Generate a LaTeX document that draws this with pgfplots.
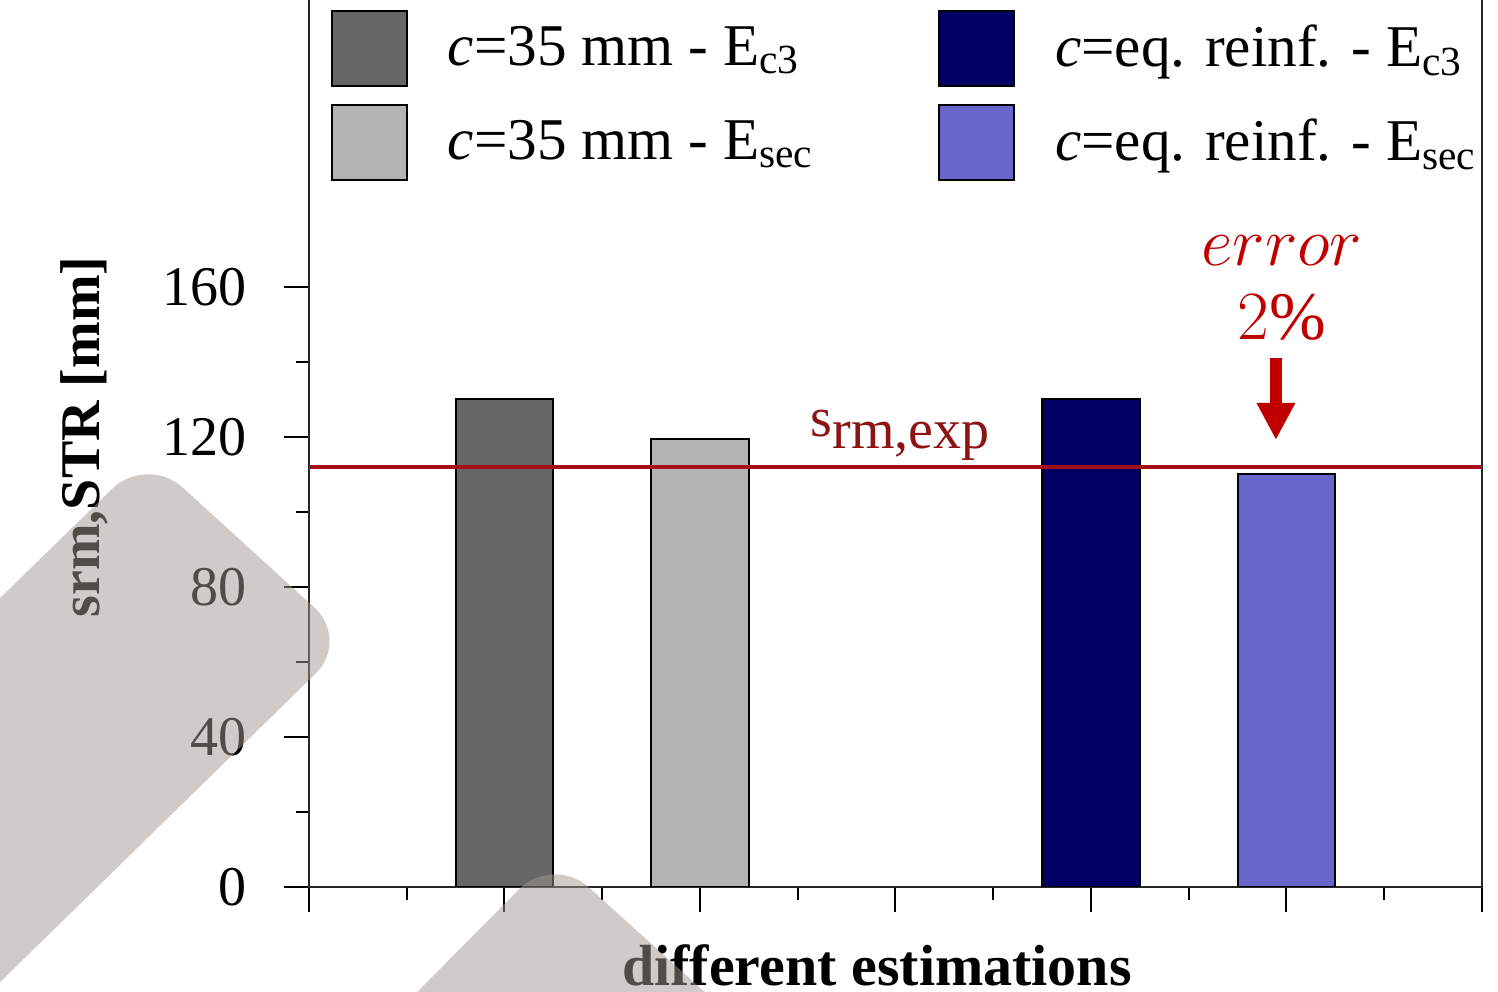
\documentclass[border=0pt]{standalone}
\usepackage{fontspec}
\setmainfont{Liberation Serif}
\usepackage{pgfplots}
\pgfplotsset{compat=1.18}
\usetikzlibrary{arrows.meta}
\definecolor{gA}{RGB}{102,102,102}
\definecolor{gB}{RGB}{179,179,179}
\definecolor{nA}{RGB}{0,0,100}
\definecolor{nB}{RGB}{102,102,204}
\definecolor{redline}{RGB}{165,15,25}
\definecolor{redtext}{RGB}{140,20,20}
\definecolor{errred}{RGB}{192,0,0}
\definecolor{blob}{RGB}{160,152,145}
\begin{document}
\begin{tikzpicture}
\begin{axis}[
  scale only axis, width=293.25pt, height=225pt,
  xmin=0, xmax=6, ymin=0, ymax=240,
  axis line style={line width=0.7pt, black!85},
  xtick={0,...,6}, xticklabels={}, minor x tick num=1,
  ytick={0,40,...,160}, minor ytick={20,60,100,140},
  xtick pos=bottom, ytick pos=left, tick align=outside,
  major tick length=6.25pt, minor tick length=3.25pt,
  every tick/.style={line width=0.5pt, black},
  /pgf/number format/assume math mode=true,
  tick label style={font=\fontsize{14}{16}\selectfont},
  yticklabel style={xshift=-5.75pt},
  xlabel={\textbf{different estimations}},
  xlabel style={at={(axis description cs:0.4842,-0.1089)}, anchor=base, inner sep=0pt, font=\fontsize{14.5}{17}\selectfont},
  ylabel={\textbf{srm,STR [mm]}},
  ylabel style={at={(axis description cs:-0.1782,0.5)}, anchor=base, inner sep=0pt, font=\fontsize{14}{17}\selectfont},
  legend columns=2,
  legend cell align=left,
  legend style={at={(axis description cs:0.01876,0.9744)}, anchor=north west,
    draw=none, fill=none, inner sep=0pt, outer sep=0pt,
    font=\fontsize{14.8}{18}\selectfont, row sep=4.25pt,
    nodes={inner sep=0pt},
    /tikz/every odd column/.append style={column sep=10pt},
    /tikz/every even column/.append style={column sep=31pt}},
  legsq/.style={legend image code/.code={\draw[##1,draw=black,line width=0.5pt] (0pt,-9.375pt) rectangle (18.75pt,9.375pt);}},
]
\addplot[ybar, bar width=0.5, bar shift=0pt, fill=gA, draw=black, line width=0.5pt, legsq] coordinates {(1,130)};
\addlegendentry{\textit{c}=35 mm - E\textsubscript{c3}}
\addplot[ybar, bar width=0.5, bar shift=0pt, fill=nA, draw=black, line width=0.5pt, legsq] coordinates {(4,130)};
\addlegendentry{\textit{c}=eq. reinf. - E\textsubscript{c3}}
\addplot[ybar, bar width=0.5, bar shift=0pt, fill=gB, draw=black, line width=0.5pt, legsq] coordinates {(2,119.5)};
\addlegendentry{\textit{c}=35 mm - E\textsubscript{sec}}
\addplot[ybar, bar width=0.5, bar shift=0pt, fill=nB, draw=black, line width=0.5pt, legsq] coordinates {(5,110)};
\addlegendentry{\textit{c}=eq. reinf. - E\textsubscript{sec}}
\addplot[redline, line width=1pt, forget plot] coordinates {(0,112) (6,112)};
\node[anchor=base west, inner sep=0pt, text=redtext, font=\fontsize{14}{17}\selectfont] at (axis cs:2.563,120) {s\raisebox{-3pt}{rm,exp}};
\node[anchor=base, inner sep=0pt, text=errred, font=\fontsize{16.5}{19}\selectfont] at (axis cs:4.977,165.6) {$error$};
\node[anchor=base, inner sep=0pt, text=errred, font=\fontsize{17}{20}\selectfont] at (axis cs:4.977,145.9) {$2\%$};
\draw[errred, line width=3pt, -{Triangle[width=9pt,length=9.25pt]}] (axis cs:4.946,141) -- (axis cs:4.946,119.2);
\end{axis}
\fill[blob, opacity=0.5, rounded corners=12pt] (-114.75pt,35.75pt) -- (-40.5pt,108pt) -- (10.25pt,61.75pt) -- (-102.25pt,-48.25pt) -- cycle;
\fill[blob, opacity=0.5, rounded corners=12pt] (7.75pt,-45.75pt) -- (61pt,8pt) -- (117.75pt,-43.25pt) -- cycle;
\pgfresetboundingbox
\path[use as bounding box] (-77.25pt,-26.25pt) rectangle (297.25pt,221.75pt);
\end{tikzpicture}
\end{document}
